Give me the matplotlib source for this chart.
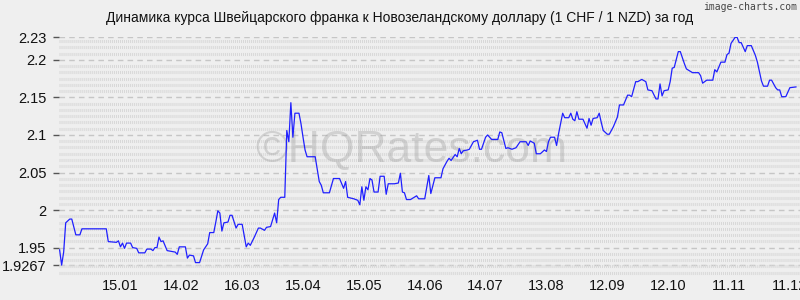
import numpy as np
import matplotlib
matplotlib.use("Agg")
import matplotlib.pyplot as plt
import matplotlib.dates as mdates
from matplotlib.ticker import FixedLocator, MultipleLocator

# ---- data ----
start_date = "2024-12-16"
day_offsets = [0, 1, 2, 3, 5, 6, 8, 10, 11, 23, 24, 28, 29, 30, 31, 32, 33, 35, 36, 38,
               39, 42, 43, 45, 46, 47, 48, 49, 50, 51, 53, 55, 57, 58, 59, 62, 63, 64, 66, 67,
               69, 71, 73, 74, 76, 77, 78, 79, 80, 81, 83, 84, 85, 87, 88, 90, 92, 93, 94, 96,
               98, 99, 101, 102, 104, 106, 107, 108, 109, 111, 112, 113, 114, 115, 116, 118, 119, 120, 121, 122,
               126, 128, 129, 130, 133, 135, 138, 140, 141, 142, 145, 147, 148, 149, 150, 151, 152, 153, 154, 155,
               157, 158, 160, 161, 162, 165, 167, 168, 169, 170, 171, 173, 176, 177, 180, 182, 183, 185, 188, 189,
               191, 192, 193, 195, 196, 197, 198, 199, 201, 202, 204, 206, 207, 208, 210, 211, 212, 213, 216, 217,
               218, 220, 221, 223, 225, 227, 230, 231, 232, 234, 235, 237, 239, 240, 241, 242, 244, 245, 246, 248,
               249, 251, 252, 253, 254, 255, 256, 258, 260, 261, 262, 263, 265, 266, 267, 268, 270, 271, 273, 275,
               276, 278, 280, 281, 282, 284, 285, 287, 289, 290, 292, 294, 295, 296, 297, 298, 300, 301, 302, 303,
               305, 306, 308, 309, 312, 315, 316, 317, 319, 322, 323, 324, 326, 328, 329, 330, 331, 333, 334, 335,
               336, 338, 339, 341, 343, 344, 346, 347, 349, 350, 351, 353, 354, 355, 356, 358, 360, 363]
rates = [1.947, 1.9267, 1.944, 1.983, 1.988, 1.988, 1.967, 1.967, 1.975, 1.975, 1.958, 1.957, 1.959, 1.951, 1.956, 1.949, 1.956, 1.956, 1.950, 1.949,
         1.943, 1.943, 1.948, 1.948, 1.946, 1.950, 1.950, 1.964, 1.958, 1.959, 1.946, 1.945, 1.944, 1.941, 1.951, 1.951, 1.936, 1.940, 1.939, 1.930,
         1.930, 1.947, 1.955, 1.970, 1.970, 1.984, 1.999, 1.996, 1.972, 1.983, 1.984, 1.993, 1.993, 1.976, 1.981, 1.981, 1.951, 1.956, 1.953, 1.964,
         1.976, 1.976, 1.973, 1.977, 1.978, 1.996, 1.983, 2.014, 2.017, 2.017, 2.106, 2.091, 2.143, 2.097, 2.129, 2.129, 2.115, 2.097, 2.080, 2.071,
         2.071, 2.038, 2.033, 2.023, 2.023, 2.042, 2.042, 2.029, 2.038, 2.017, 2.015, 2.013, 2.007, 2.031, 2.013, 2.031, 2.027, 2.042, 2.040, 2.024,
         2.024, 2.045, 2.045, 2.021, 2.035, 2.035, 2.036, 2.049, 2.024, 2.023, 2.014, 2.014, 2.019, 2.015, 2.015, 2.046, 2.022, 2.043, 2.043, 2.055,
         2.065, 2.069, 2.066, 2.074, 2.071, 2.082, 2.075, 2.079, 2.080, 2.081, 2.091, 2.093, 2.081, 2.081, 2.097, 2.100, 2.097, 2.094, 2.094, 2.104,
         2.103, 2.082, 2.083, 2.081, 2.083, 2.091, 2.091, 2.086, 2.092, 2.089, 2.075, 2.075, 2.080, 2.078, 2.091, 2.097, 2.097, 2.086, 2.102, 2.129,
         2.123, 2.123, 2.129, 2.121, 2.119, 2.131, 2.121, 2.121, 2.109, 2.122, 2.113, 2.122, 2.123, 2.129, 2.117, 2.106, 2.101, 2.101, 2.111, 2.124,
         2.140, 2.140, 2.153, 2.153, 2.151, 2.171, 2.171, 2.174, 2.171, 2.160, 2.159, 2.148, 2.148, 2.168, 2.152, 2.159, 2.160, 2.171, 2.189, 2.190,
         2.211, 2.211, 2.195, 2.188, 2.183, 2.183, 2.179, 2.169, 2.173, 2.173, 2.187, 2.184, 2.197, 2.197, 2.207, 2.209, 2.222, 2.230, 2.230, 2.223,
         2.223, 2.211, 2.219, 2.219, 2.206, 2.197, 2.172, 2.165, 2.165, 2.173, 2.173, 2.163, 2.160, 2.160, 2.151, 2.151, 2.163, 2.164]

x_tick_dates = ["2025-01-15", "2025-02-14", "2025-03-16", "2025-04-15", "2025-05-15", "2025-06-14",
                "2025-07-14", "2025-08-13", "2025-09-12", "2025-10-12", "2025-11-11", "2025-12-11"]
x_tick_labels = ["15.01", "14.02", "16.03", "15.04", "15.05", "14.06",
                 "14.07", "13.08", "12.09", "12.10", "11.11", "11.12"]
y_ticks = [1.9267, 1.95, 2.0, 2.05, 2.1, 2.15, 2.2, 2.23]
y_tick_labels = ["1.9267", "1.95", "2", "2.05", "2.1", "2.15", "2.2", "2.23"]

title = "Динамика курса Швейцарского франка к Новозеландскому доллару (1 CHF / 1 NZD) за год"

# ---- plot ----
plt.rcParams['font.family'] = ['Liberation Sans', 'DejaVu Sans']
bg = "#efefef"

dates = np.datetime64(start_date) + np.array(day_offsets).astype("timedelta64[D]")
dates = dates.astype("datetime64[ms]").astype(object)

fig = plt.figure(figsize=(8, 3), dpi=100, facecolor=bg)
ax = fig.add_axes([59 / 800, 1 - 278 / 300, 1 - 59 / 800, (278 - 37) / 300])
ax.set_facecolor(bg)

x0 = mdates.date2num(np.datetime64(start_date).astype("datetime64[ms]").astype(object))
ax.set_xlim(x0 - 0.3, x0 + 365)
ax.set_ylim(1.9095, 2.2305)

# minor comb grid
ax.yaxis.set_minor_locator(MultipleLocator(0.05 / 6))
ax.grid(which="minor", axis="y", color="#d8d8d8", linewidth=2.2, dashes=(0.33, 0.33))
ax.yaxis.set_major_locator(FixedLocator(y_ticks))
ax.set_yticklabels(y_tick_labels)
ax.grid(which="major", axis="y", color="#c6c6c6", linewidth=1.0, dashes=(4, 3))
ax.tick_params(axis="y", which="minor", length=0)
ax.tick_params(axis="y", which="major", length=4, width=1, color="#555555", pad=5,
               labelsize=10.5, labelcolor="#111111")

ax.set_xticks([mdates.date2num(np.datetime64(d).astype("datetime64[ms]").astype(object)) for d in x_tick_dates])
ax.set_xticklabels(x_tick_labels)
ax.tick_params(axis="x", length=0, pad=1, labelsize=10.5, labelcolor="#111111")

for s in ax.spines.values():
    s.set_visible(False)

ax.plot(dates, rates, color="#2020ff", linewidth=0.9, zorder=3)

# watermark
ax.text(0.475, 0.53, "©HQRates.com", transform=ax.transAxes, fontsize=32,
        color="#999999", alpha=0.35, ha="center", va="center", zorder=2)

fig.text(400 / 800, 1 - 18 / 300, title, ha="center", va="center", fontsize=10, color="#111111")
fig.text(797 / 800, 1 - 7 / 300, "image-charts.com", ha="right", va="center",
         fontsize=7, color="#444444", family=["DejaVu Sans Mono", "DejaVu Sans"])

fig.savefig("out.png", dpi=100, facecolor=bg)
